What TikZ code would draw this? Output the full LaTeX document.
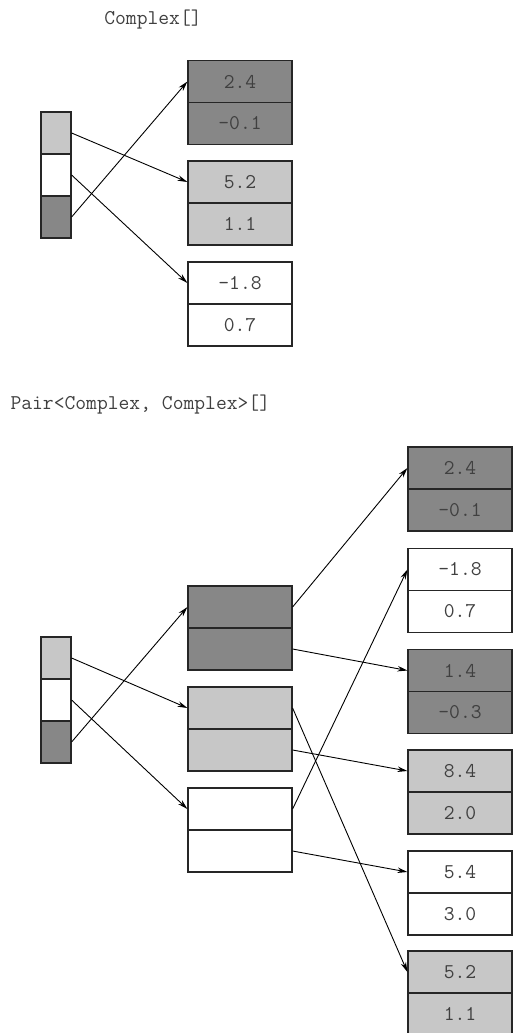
\documentclass[tikz,border=0pt]{standalone}
\usetikzlibrary{arrows.meta}
\definecolor{darkcell}{gray}{0.53}
\definecolor{lightcell}{gray}{0.78}
\tikzset{
  label/.style={font=\ttfamily\fontsize{21}{21}\selectfont, text=black!75},
  cell/.style={label, draw=black!85, line width=1.2pt, minimum width=104pt, minimum height=42pt, inner sep=0pt},
  slot/.style={cell, minimum width=30pt},
  ptr/.style={-{Stealth[length=10pt,width=5.5pt]}, line width=0.9pt},
}
\begin{document}
\begin{tikzpicture}[x=1pt, y=-1pt]
  \useasboundingbox (0,0) rectangle (512,1033);
  % Complex[]
  \node[label] (t1) at (153,20) {Complex[]};
  \node[slot, fill=lightcell] (s1) at (56,133) {};
  \node[slot, fill=white] (s2) at (56,175) {};
  \node[slot, fill=darkcell] (s3) at (56,217) {};
  \node[cell, fill=darkcell] (b1a) at (240,81.5) {2.4};
  \node[cell, fill=darkcell] (b1b) at (240,123.5) {-0.1};
  \node[cell, fill=lightcell] (b2a) at (240,182) {5.2};
  \node[cell, fill=lightcell] (b2b) at (240,224) {1.1};
  \node[cell, fill=white] (b3a) at (240,283) {-1.8};
  \node[cell, fill=white] (b3b) at (240,325) {0.7};
  \draw[ptr] (s1.east) -- (b2a.west);
  \draw[ptr] (s2.east) -- (b3a.west);
  \draw[ptr] (s3.east) -- (b1a.west);
  % Pair<Complex, Complex>[]
  \node[label, anchor=west] (t2) at (7,405) {Pair<Complex, Complex>[]};
  \node[slot, fill=lightcell] (p1) at (56,658) {};
  \node[slot, fill=white] (p2) at (56,700) {};
  \node[slot, fill=darkcell] (p3) at (56,742) {};
  \node[cell, fill=darkcell] (ma) at (240,607) {};
  \node[cell, fill=darkcell] (mb) at (240,649) {};
  \node[cell, fill=lightcell] (na) at (240,708) {};
  \node[cell, fill=lightcell] (nb) at (240,750) {};
  \node[cell, fill=white] (oa) at (240,809) {};
  \node[cell, fill=white] (ob) at (240,851) {};
  \node[cell, fill=darkcell] (r1a) at (460,468) {2.4};
  \node[cell, fill=darkcell] (r1b) at (460,510) {-0.1};
  \node[cell, fill=white] (r2a) at (460,569.5) {-1.8};
  \node[cell, fill=white] (r2b) at (460,611.5) {0.7};
  \node[cell, fill=darkcell] (r3a) at (460,670.5) {1.4};
  \node[cell, fill=darkcell] (r3b) at (460,712.5) {-0.3};
  \node[cell, fill=lightcell] (r4a) at (460,771) {8.4};
  \node[cell, fill=lightcell] (r4b) at (460,813) {2.0};
  \node[cell, fill=white] (r5a) at (460,872) {5.4};
  \node[cell, fill=white] (r5b) at (460,914) {3.0};
  \node[cell, fill=lightcell] (r6a) at (460,972) {5.2};
  \node[cell, fill=lightcell] (r6b) at (460,1014) {1.1};
  \draw[ptr] (p1.east) -- (na.west);
  \draw[ptr] (p2.east) -- (oa.west);
  \draw[ptr] (p3.east) -- (ma.west);
  \draw[ptr] (ma.east) -- (r1a.west);
  \draw[ptr] (mb.east) -- (r3a.west);
  \draw[ptr] (na.east) -- (r6a.west);
  \draw[ptr] (nb.east) -- (r4a.west);
  \draw[ptr] (oa.east) -- (r2a.west);
  \draw[ptr] (ob.east) -- (r5a.west);
\end{tikzpicture}
\end{document}
